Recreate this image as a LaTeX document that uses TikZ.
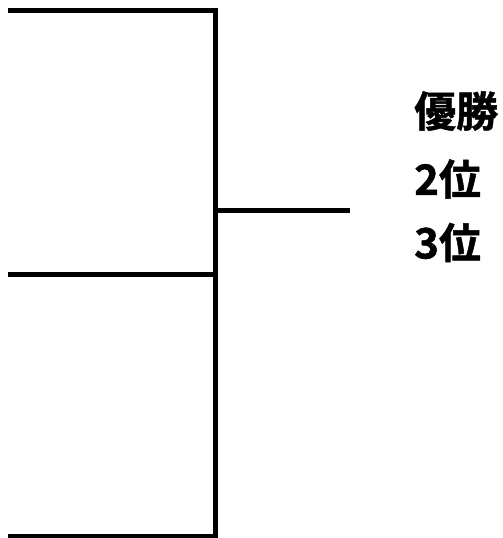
\documentclass[tikz,border=0pt]{standalone}
\usepackage{fontspec}
\newfontfamily\jpfont[FakeBold=1.2]{Noto Sans CJK JP Bold}
\begin{document}
\begin{tikzpicture}[x=1pt,y=-1pt,
  bracket/.style={line width=4.5pt,line join=miter,line cap=butt},
  label/.style={anchor=west,inner sep=0pt,font=\jpfont\fontsize{42}{42}\selectfont}]
\useasboundingbox (0,0) rectangle (503,538);
\coordinate (tl) at (8,10.5);
\coordinate (tr) at (215.5,10.5);
\coordinate (br) at (215.5,536.3);
\coordinate (bl) at (8,536.3);
\coordinate (ml) at (8,274.3);
\coordinate (mr) at (215.5,274.3);
\coordinate (wa) at (215.5,210.3);
\coordinate (we) at (350,210.3);
\draw[bracket] (tl) -- (tr) -- (br) -- (bl);
\draw[bracket] (ml) -- (mr);
\draw[bracket] (wa) -- (we);
\node[label] (first) at (414,111) {優勝};
\node[label] (second) at (414,179) {2位};
\node[label] (third) at (414,242.5) {3位};
\end{tikzpicture}
\end{document}
